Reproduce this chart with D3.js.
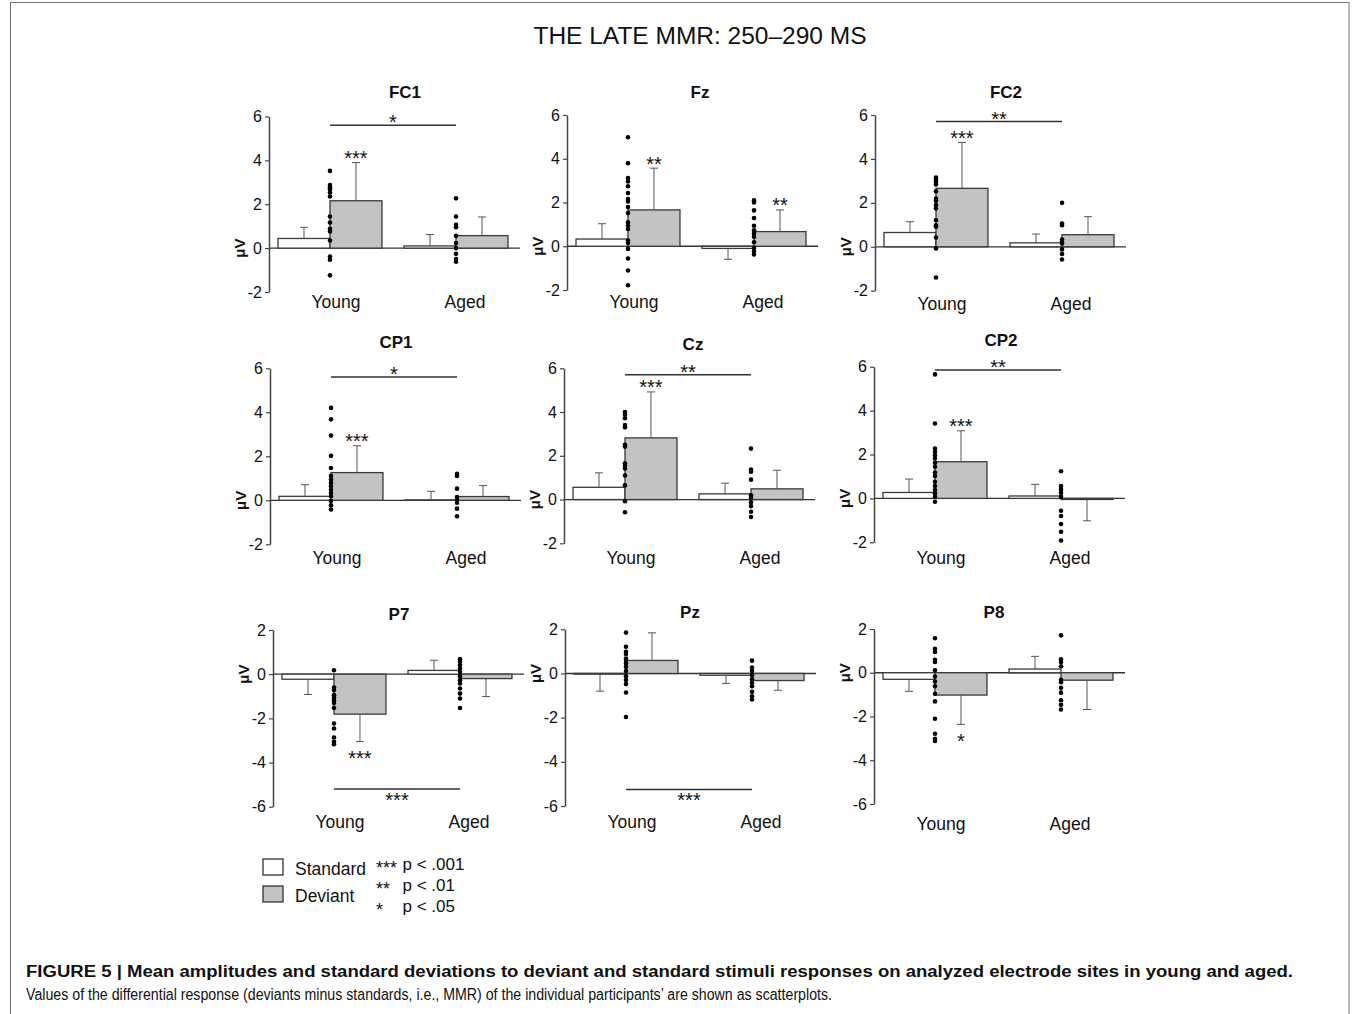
<!DOCTYPE html>
<html><head><meta charset="utf-8">
<script src="https://cdn.jsdelivr.net/npm/d3@7"></script>
<style>
body{margin:0;background:#fff}
svg{display:block}
text{font-family:"Liberation Sans",Arial,Helvetica,sans-serif;fill:#111}
</style>
</head><body>
<svg id="c" width="1352" height="1014"></svg>
<script>
// ---------------- DATA ----------------
const electrodes = ["FC1","Fz","FC2","CP1","Cz","CP2","P7","Pz","P8"];
const groups = ["Young","Aged"];
const conditions = ["Standard","Deviant"];
const frontalTicks = [-2,0,2,4,6];
const parietalTicks = [-6,-4,-2,0,2];

// [Young, Aged] per electrode
const standardMean = [[0.44,0.10],[0.33,-0.10],[0.65,0.18],[0.18,0.02],[0.56,0.26],[0.27,0.11],[-0.23,0.17],[-0.03,-0.08],[-0.30,0.17]];
const standardSD   = [[0.51,0.52],[0.70,0.50],[0.49,0.40],[0.53,0.39],[0.66,0.49],[0.61,0.53],[0.69,0.46],[0.77,0.37],[0.55,0.58]];
const deviantMean  = [[2.16,0.57],[1.66,0.67],[2.66,0.55],[1.26,0.17],[2.82,0.49],[1.67,-0.05],[-1.81,-0.20],[0.59,-0.32],[-1.02,-0.34]];
const deviantSD    = [[1.74,0.85],[1.91,0.99],[2.09,0.82],[1.22,0.50],[2.10,0.85],[1.41,0.97],[1.24,0.81],[1.25,0.44],[1.34,1.34]];

// individual MMR values (deviant minus standard)
const youngMMR = [
  [3.52,2.88,2.77,2.68,2.53,2.35,1.44,1.17,0.88,0.76,0.35,-0.38,-0.53,-1.24],
  [4.98,3.80,3.12,2.96,2.74,2.43,2.16,2.05,1.79,1.52,1.09,0.94,0.79,0.26,0.15,-0.12,-0.56,-1.11,-1.78],
  [3.15,3.06,2.96,2.84,2.53,2.20,2.10,1.90,1.75,1.21,0.98,0.91,0.42,-0.08,-1.40],
  [4.20,3.68,2.94,2.02,1.47,1.11,0.94,0.79,0.64,0.48,0.33,0.18,-0.03,-0.23,-0.42],
  [4.00,3.88,3.72,3.41,3.30,2.50,2.42,1.66,1.54,1.42,1.10,0.65,-0.08,-0.58],
  [5.65,3.41,2.27,2.12,1.97,1.82,1.62,1.44,1.18,1.02,0.76,0.56,0.38,0.23,0.08,-0.15],
  [0.18,-0.60,-0.72,-0.95,-1.07,-1.18,-1.30,-1.53,-2.23,-2.46,-2.87,-3.06,-3.17],
  [1.85,1.21,0.98,0.88,0.68,0.56,0.45,0.30,0.11,-0.12,-0.30,-0.48,-0.86,-1.97],
  [1.58,1.10,0.95,0.59,0.49,0.11,-0.17,-0.40,-0.62,-0.96,-1.31,-2.10,-2.79,-3.02,-3.12]
];
const agedMMR = [
  [2.27,1.44,1.06,0.95,0.56,0.23,0.00,-0.26,-0.50,-0.62],
  [2.10,2.00,1.64,1.29,0.94,0.73,0.58,0.43,0.18,-0.08,-0.24,-0.38],
  [2.00,1.06,0.98,0.33,0.23,0.15,-0.12,-0.33,-0.58],
  [1.21,1.11,0.53,0.15,0.03,-0.11,-0.38,-0.73],
  [2.33,1.37,1.27,0.91,0.20,0.08,-0.12,-0.30,-0.56,-0.80],
  [1.24,0.56,0.41,0.26,0.08,-0.56,-0.80,-1.17,-1.52,-1.92],
  [0.68,0.56,0.41,0.26,0.11,-0.09,-0.27,-0.42,-0.65,-0.88,-1.10,-1.53],
  [0.58,0.27,0.11,-0.08,-0.26,-0.42,-0.58,-0.83,-1.03,-1.18],
  [1.71,0.61,0.49,0.30,-0.32,-0.43,-0.69,-0.91,-1.26,-1.46,-1.68]
];
// significance of deviant vs standard [Young, Aged]
const deviantSig = [["***",""],["**","**"],["***",""],["***",""],["***",""],["***",""],["***",""],["",""],["*",""]];
// group comparison (Young vs Aged)
const groupSig = ["*","","**","*","**","**","***","***",""];
const groupSigLevel = [5.6,null,5.7,5.6,5.7,5.85,-5.2,-5.25,null];

const legendItems = ["Standard","Deviant"];
const pLevels = [["***","p < .001"],["**","p < .01"],["*","p < .05"]];

// ---------------- LAYOUT ----------------
const layout = [
  {ax:269, top:116.5, bot:292,   tx:405, ty:98,  ly:308},
  {ax:567, top:115,   bot:290,   tx:700, ty:98,  ly:308},
  {ax:875, top:115,   bot:290.7, tx:1006,ty:98,  ly:310},
  {ax:270, top:368.3, bot:544.3, tx:396, ty:348, ly:564},
  {ax:564, top:368.3, bot:543.3, tx:693, ty:350, ly:564},
  {ax:874, top:366.7, bot:542.3, tx:1001,ty:346, ly:564},
  {ax:273, top:630,   bot:806.7, tx:399, ty:620, ly:828},
  {ax:565, top:629.3, bot:806,   tx:690, ty:618, ly:828},
  {ax:874, top:629,   bot:804,   tx:994, ty:618, ly:830}
];

const svg = d3.select("#c");
const starSize = 20;   // px
const starLift = 11.5; // distance from baseline to visual centre of asterisk

// frame
svg.append("rect").attr("x",10.5).attr("y",2.5).attr("width",1338.5).attr("height",1030)
  .attr("fill","none").attr("stroke","#777").attr("stroke-width",1);

// main title
svg.append("text").attr("x",700).attr("y",44).attr("text-anchor","middle")
  .style("font-size","24.5px").text("THE LATE MMR: 250\u2013290 MS");

electrodes.forEach((el,i)=>{
  const L = layout[i];
  const parietal = i >= 6;
  const ticks = parietal ? parietalTicks : frontalTicks;
  const y = d3.scaleLinear().domain([d3.min(ticks), d3.max(ticks)]).range([L.bot, L.top]);
  const xg = d3.scaleBand().domain(groups).range([L.ax+9, L.ax+239]).paddingInner(0.175).paddingOuter(0);
  const xc = d3.scaleBand().domain(conditions).range([0, xg.bandwidth()]);
  const g = svg.append("g");

  // title
  g.append("text").attr("x",L.tx).attr("y",L.ty).attr("text-anchor","middle")
    .style("font-size","17px").style("font-weight","bold").text(el);

  // zero line
  g.append("line").attr("x1",L.ax).attr("x2",L.ax+251).attr("y1",y(0)).attr("y2",y(0))
    .attr("stroke","#333").attr("stroke-width",1.3);

  const means = [standardMean[i], deviantMean[i]];
  const sds = [standardSD[i], deviantSD[i]];
  groups.forEach((grp,gi)=>{
    conditions.forEach((cond,ci)=>{
      const m = means[ci][gi], s = sds[ci][gi];
      const x0 = xg(grp) + xc(cond);
      const bw = xc.bandwidth();
      g.append("rect").attr("x",x0).attr("width",bw)
        .attr("y",Math.min(y(m),y(0))).attr("height",Math.abs(y(m)-y(0)))
        .attr("fill", ci===0 ? "#fff" : "#c3c3c3")
        .attr("stroke","#3a3a3a").attr("stroke-width",1.3);
      const end = m >= 0 ? m + s : m - s;
      const cx = x0 + bw/2;
      g.append("line").attr("x1",cx).attr("x2",cx).attr("y1",y(m)).attr("y2",y(end))
        .attr("stroke","#555").attr("stroke-width",1);
      g.append("line").attr("x1",cx-4).attr("x2",cx+4).attr("y1",y(end)).attr("y2",y(end))
        .attr("stroke","#555").attr("stroke-width",1);
      if (ci===1 && deviantSig[i][gi]) {
        const cy = m >= 0 ? y(end) - 9 : y(end) + 12;
        g.append("text").attr("x",cx).attr("y",cy+starLift).attr("text-anchor","middle")
          .style("font-size",starSize+"px").text(deviantSig[i][gi]);
      }
    });
  });

  // scatter of MMR values
  const dotsets = [youngMMR[i], agedMMR[i]];
  groups.forEach((grp,gi)=>{
    const cx = xg(grp) + xc.bandwidth();
    g.selectAll(null).data(dotsets[gi]).enter().append("circle")
      .attr("cx",cx).attr("cy",d=>y(d)).attr("r",2.3).attr("fill","#000");
  });

  // group significance bracket
  if (groupSig[i]) {
    const lv = groupSigLevel[i];
    const x1 = xg("Young") + xc.bandwidth(), x2 = xg("Aged") + xc.bandwidth();
    g.append("line").attr("x1",x1).attr("x2",x2).attr("y1",y(lv)).attr("y2",y(lv))
      .attr("stroke","#333").attr("stroke-width",1.5);
    const cy = lv > 0 ? y(lv) - 7.5 : y(lv) + 6.5;
    g.append("text").attr("x",(x1+x2)/2).attr("y",cy+starLift).attr("text-anchor","middle")
      .style("font-size",starSize+"px").text(groupSig[i]);
  }

  // y axis
  const axis = d3.axisLeft(y).tickValues(ticks).tickSize(4).tickSizeOuter(0).tickPadding(3).tickFormat(d => String(d));
  const ag = g.append("g").attr("transform",`translate(${L.ax},0)`).call(axis);
  ag.attr("font-size",null).attr("font-family",null);
  ag.select(".domain").attr("stroke","#444").attr("stroke-width",1.5);
  ag.selectAll(".tick line").attr("stroke","#444").attr("stroke-width",1.2);
  ag.selectAll(".tick text").attr("fill","#111")
    .style("font-size","16px").style("font-family",'"Liberation Sans",Arial,sans-serif');

  // y label
  g.append("text").attr("transform",`translate(${L.ax-24},${y(0)}) rotate(-90)`)
    .attr("text-anchor","middle").style("font-size","15px").style("font-weight","bold").text("\u03bcV");

  // group labels
  groups.forEach((grp,gi)=>{
    g.append("text").attr("x",xg(grp)+xg.bandwidth()/2 + (gi===0?6:9)).attr("y",L.ly)
      .attr("text-anchor","middle").style("font-size","17.5px").text(grp);
  });
});

// legend
const lg = svg.append("g");
legendItems.forEach((name,k)=>{
  const yy = 859 + k*27;
  lg.append("rect").attr("x",263).attr("y",yy).attr("width",20).attr("height",16)
    .attr("fill", k===0 ? "#fff" : "#c3c3c3").attr("stroke","#333").attr("stroke-width",1.3);
  lg.append("text").attr("x",295).attr("y",yy+15.5).style("font-size","17.5px").text(name);
});
pLevels.forEach((p,k)=>{
  const yy = 870 + k*21;
  lg.append("text").attr("x",376).attr("y",yy+4).style("font-size","18px").text(p[0]);
  lg.append("text").attr("x",402.5).attr("y",yy).style("font-size","17px").text(p[1]);
});

// caption
svg.append("text").attr("x",26).attr("y",977).style("font-size","16px").style("font-weight","bold")
  .attr("textLength",1267).attr("lengthAdjust","spacingAndGlyphs")
  .text("FIGURE 5 | Mean amplitudes and standard deviations to deviant and standard stimuli responses on analyzed electrode sites in young and aged.");
svg.append("text").attr("x",26).attr("y",1000).style("font-size","16px")
  .attr("textLength",806).attr("lengthAdjust","spacingAndGlyphs")
  .text("Values of the differential response (deviants minus standards, i.e., MMR) of the individual participants\u2019 are shown as scatterplots.");
</script>
</body></html>
